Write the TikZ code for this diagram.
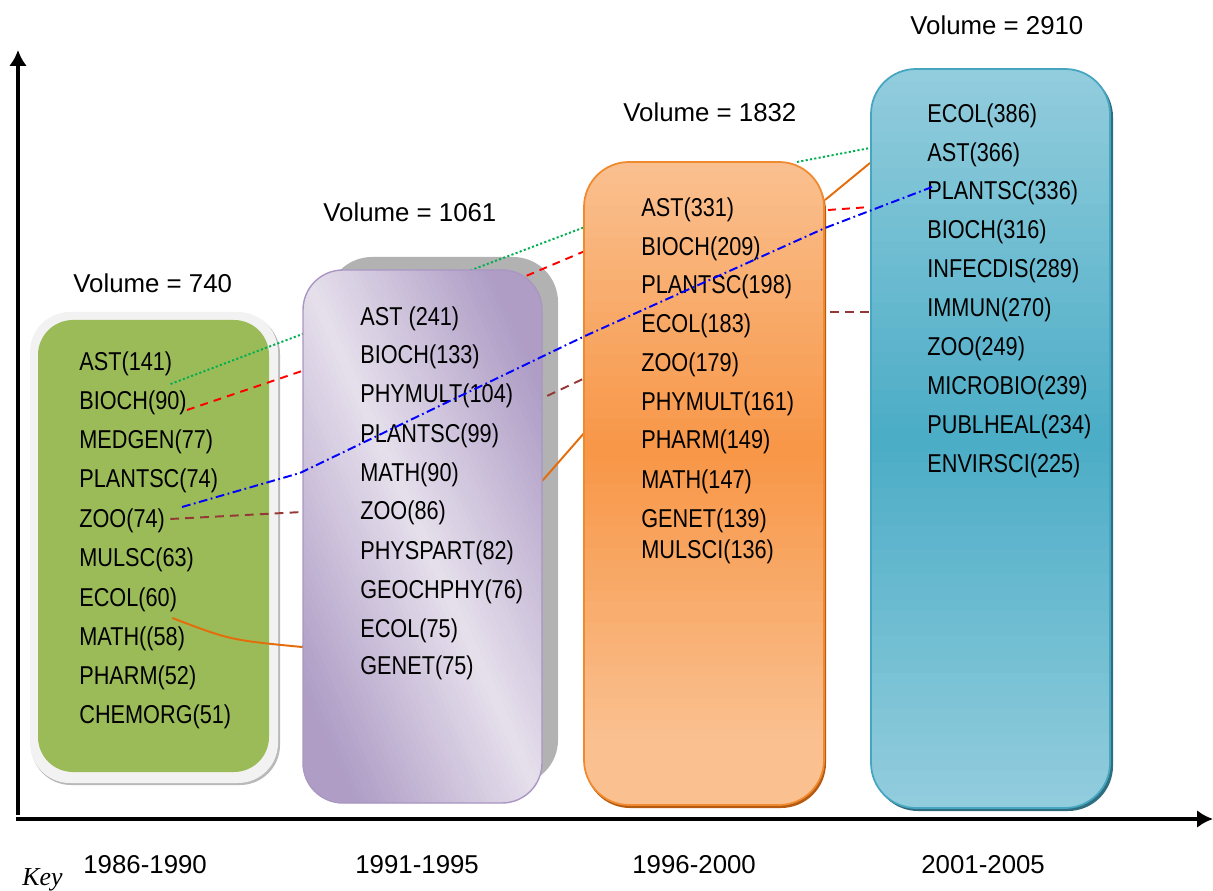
\documentclass[tikz,border=0pt]{standalone}
\usepackage{fontspec}
\setmainfont{Liberation Sans}
\newfontfamily\narrowsans[FakeStretch=0.84]{Liberation Sans}
\newfontfamily\keyserif{Liberation Serif}
\usetikzlibrary{arrows.meta}

\definecolor{greenfill}{HTML}{9BBB59}
\definecolor{framefill}{HTML}{F2F2F2}
\definecolor{purplelight}{HTML}{E6E0EC}
\definecolor{purpledark}{HTML}{AF9DC6}
\definecolor{purpleedge}{HTML}{A996C2}
\definecolor{orangelight}{HTML}{FAC090}
\definecolor{orangemid}{HTML}{F79646}
\definecolor{orangeedge}{HTML}{F08A30}
\definecolor{orangeshade}{HTML}{B65A10}
\definecolor{bluelight}{HTML}{93CDDD}
\definecolor{bluemid}{HTML}{4BACC6}
\definecolor{blueedge}{HTML}{46A5BF}
\definecolor{blueshade}{HTML}{2E6E80}
\definecolor{astgreen}{HTML}{00B050}
\definecolor{zoobrown}{HTML}{953735}
\definecolor{ecolorange}{HTML}{E46C0A}

\tikzset{>={Latex[length=9pt,width=10pt]}}
\tikzset{
  item/.style={anchor=base west,inner sep=0pt,font=\narrowsans\fontsize{14.7}{17}\selectfont},
  voltext/.style={anchor=base west,inner sep=0pt,font=\fontsize{14.7}{17}\selectfont},
  axis/.style={line width=2.8pt,->},
  link/.style={line width=1.1pt}
}

\begin{document}
\begin{tikzpicture}[x=0.02cm,y=-0.02cm]
  \useasboundingbox (0,0) rectangle (1213,891);
  % axes
  \draw[axis] (18,815) -- (18,50);
  \draw[axis] (16,819) -- (1213,819);

  % 1986-1990
  \fill[gray!55,rounded corners=0.8cm] (31,314) rectangle (280,785);
  \fill[framefill,rounded corners=0.8cm] (30,312) rectangle (278,783);
  \fill[greenfill,rounded corners=0.7cm] (38,320) rectangle (269,772);
  \foreach \t/\y [count=\i] in {AST(141)/371, BIOCH(90)/410, MEDGEN(77)/449,
      PLANTSC(74)/487, ZOO(74)/527, MULSC(63)/566, ECOL(60)/606,
      MATH((58)/645, PHARM(52)/684, CHEMORG(51)/723} {%
    \node[item] (g\i) at (79,\y) {\t};
  }

  % 1991-1995 shadow
  \fill[gray!60,rounded corners=0.9cm] (327,257) rectangle (558,785);

  \coordinate (oast-in) at (585,227);
  \coordinate (oast-out) at (797,162);
  \coordinate (bast-in) at (870,148);
  \coordinate (pbio-in) at (302,371);
  \coordinate (obio-in) at (585,251);
  \coordinate (obio-out) at (828,210);
  \coordinate (bbio-in) at (870,207);
  \coordinate (pzoo-in) at (302,512);
  \coordinate (ozoo-in) at (585,378);
  \coordinate (ozoo-out) at (830,312);
  \coordinate (bzoo-in) at (870,312);
  \coordinate (pecol-in) at (302,647);
  \coordinate (pecol-out) at (543,480);
  \coordinate (oecol-in) at (585,432);
  \coordinate (oecol-out) at (825,200);
  \coordinate (becol-in) at (870,163);
  \coordinate (pplant-in) at (300,473);
  \coordinate (oplant-in) at (585,336);
  \coordinate (oplant-out) at (825,228);

  \draw[link,astgreen,dash pattern=on 1.2pt off 1.3pt] ([shift={(-2,13)}]g1.base east) -- (oast-in);
  \draw[link,astgreen,dash pattern=on 1.2pt off 1.3pt] (oast-out) -- (bast-in);
  \draw[link,red,dash pattern=on 4.5pt off 3.5pt] (g2.base east) -- (pbio-in) -- (obio-in);
  \draw[link,red,dash pattern=on 4.5pt off 3.5pt] (obio-out) -- (bbio-in);
  \draw[link,zoobrown,dash pattern=on 5pt off 3.5pt] ([shift={(5,-8)}]g5.base east) -- (pzoo-in) -- (ozoo-in);
  \draw[link,zoobrown,dash pattern=on 5pt off 3.5pt] (ozoo-out) -- (bzoo-in);
  \draw[link,ecolorange] ([shift={(-5,12)}]g7.base east) .. controls (230,640) .. (pecol-in) -- (pecol-out) -- (oecol-in);
  \draw[link,ecolorange] (oecol-out) -- (becol-in);

  % 1991-1995
  \begin{scope}
    \clip[rounded corners=0.8cm] (303,270) rectangle (542,803);
    \foreach \k in {0,...,79} {%
      \pgfmathsetmacro{\a}{\k/80}
      \pgfmathsetmacro{\b}{(\k+1.5)/80}
      \pgfmathsetmacro{\m}{min(100,abs(2*(\k+0.5)/80-1)*130)}
      \fill[purpledark!\m!purplelight] (64,{803-533*(2*\a+1)}) -- (781,{803-533*(2*\a-2)})
        -- (781,{803-533*(2*\b-2)}) -- (64,{803-533*(2*\b+1)}) -- cycle;
    }
  \end{scope}
  \draw[purpleedge,line width=0.8pt,rounded corners=0.8cm] (303,270) rectangle (542,803);
  \foreach \t/\y [count=\i] in {AST (241)/326, BIOCH(133)/364, PHYMULT(104)/403,
      PLANTSC(99)/442, MATH(90)/481, ZOO(86)/519, PHYSPART(82)/559,
      GEOCHPHY(76)/598, ECOL(75)/637, GENET(75)/674} {%
    \node[item] (p\i) at (360,\y) {\t};
  }

  % 1996-2000
  \fill[orangeshade,rounded corners=0.9cm] (585,166) rectangle (826,808);
  \begin{scope}
    \clip[rounded corners=0.9cm] (584,162) rectangle (824,805);
    \foreach \k in {0,...,59} {%
      \pgfmathsetmacro{\m}{max(0,1-abs((\k+0.5)/60-0.45)/0.45)*100}
      \fill[orangemid!\m!orangelight] (584,{162+\k*10.717}) rectangle (824,{162+(\k+1)*10.717+1});
    }
  \end{scope}
  \draw[orangeedge,line width=1pt,rounded corners=0.9cm] (584,162) rectangle (824,805);
  \foreach \t/\y [count=\i] in {AST(331)/217, BIOCH(209)/256, PLANTSC(198)/294,
      ECOL(183)/333, ZOO(179)/372, PHYMULT(161)/411, PHARM(149)/449,
      MATH(147)/488, GENET(139)/527, MULSCI(136)/558} {%
    \node[item] (o\i) at (641,\y) {\t};
  }

  % 2001-2005
  \fill[blueshade,rounded corners=0.9cm] (873,72) rectangle (1113,811);
  \begin{scope}
    \clip[rounded corners=0.9cm] (871,69) rectangle (1110,808);
    \foreach \k in {0,...,59} {%
      \pgfmathsetmacro{\m}{max(0,1-abs((\k+0.5)/60-0.5)/0.5)*100}
      \fill[bluemid!\m!bluelight] (871,{69+\k*12.317}) rectangle (1110,{69+(\k+1)*12.317+1});
    }
  \end{scope}
  \draw[blueedge,line width=1pt,rounded corners=0.9cm] (871,69) rectangle (1110,808);
  \foreach \t/\y [count=\i] in {ECOL(386)/123, AST(366)/162, PLANTSC(336)/200,
      BIOCH(316)/239, INFECDIS(289)/278, IMMUN(270)/317, ZOO(249)/356,
      MICROBIO(239)/395, PUBLHEAL(234)/434, ENVIRSCI(225)/473} {%
    \node[item] (b\i) at (927,\y) {\t};
  }

  \draw[link,blue,dash pattern=on 5pt off 2pt on 1pt off 2pt] ([shift={(103,20)}]g4.base west)
    -- (pplant-in) -- (oplant-in) -- (oplant-out) -- ([shift={(5,-13)}]b3.base west);

  % volumes and periods
  \node[voltext] (vol1) at (73,293) {Volume = 740};
  \node[voltext] (vol2) at (323,222) {Volume = 1061};
  \node[voltext] (vol3) at (623,122) {Volume = 1832};
  \node[voltext] (vol4) at (910,35) {Volume = 2910};
  \node[voltext] (yr1) at (83,873) {1986-1990};
  \node[voltext] (yr2) at (355,873) {1991-1995};
  \node[voltext] (yr3) at (632,873) {1996-2000};
  \node[voltext] (yr4) at (921,873) {2001-2005};
  \node[voltext,font=\keyserif\itshape\fontsize{14.7}{17}\selectfont] (key) at (22,885) {Key};
\end{tikzpicture}
\end{document}
